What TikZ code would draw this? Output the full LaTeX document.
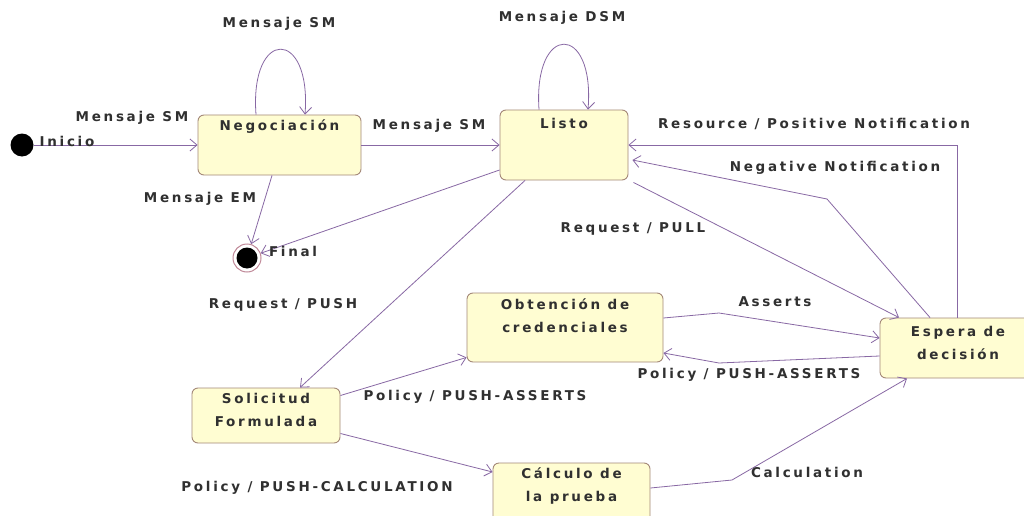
\documentclass[tikz,border=0pt]{standalone}
\usepackage{fontspec}
\usetikzlibrary{arrows.meta,calc}
\newfontfamily\lblfont{DejaVu Sans}[LetterSpace=20]
\definecolor{statefill}{HTML}{FFFDD2}
\definecolor{stateline}{HTML}{A48878}
\definecolor{trans}{HTML}{8868A4}
\definecolor{ink}{HTML}{303030}
\definecolor{finalring}{HTML}{C08898}

\begin{document}
\begin{tikzpicture}[x=1pt,y=-1pt,
  txt/.style={font=\lblfont\bfseries\fontsize{13.5}{23}\selectfont, text=ink, inner sep=0pt, align=center},
  state/.style={draw=stateline, fill=statefill, rounded corners=6pt, line width=0.9pt, inner sep=0pt},
  tr/.style={draw=trans, line width=0.8pt, -{Straight Barb[length=7pt,width=12pt]}},
]
\useasboundingbox (0,0) rectangle (1024,516);
\clip (0,0) rectangle (1024,516);
\fill[white] (0,0) rectangle (1024,516);

% pseudo-states
\node[circle, fill=black, minimum size=23pt, inner sep=0pt] (init) at (22,145) {};
\node[circle, draw=finalring, line width=1pt, fill=white, minimum size=28pt, inner sep=0pt] (final) at (247,258) {};
\fill[black] (final.center) circle (10.5pt);

% states
\node[state, minimum width=163pt, minimum height=60pt] (neg) at (279.5,145) {};
\node[txt] (negT) at ($(neg.north)+(0,12)$) {Negociación};

\node[state, minimum width=128pt, minimum height=70pt] (listo) at (564,145) {};
\node[txt] (listoT) at ($(listo.north)+(0,14)$) {Listo};

\node[state, minimum width=196pt, minimum height=69pt] (obt) at (565,327.5) {};
\node[txt] (obtT) at ($(obt.north)+(0,23.5)$) {Obtención de\\credenciales};

\node[state, minimum width=156pt, minimum height=60pt] (esp) at (958,348) {};
\node[txt] (espT) at ($(esp.north)+(0,25.5)$) {Espera de\\decisión};

\node[state, minimum width=148pt, minimum height=55pt] (sol) at (266,415.5) {};
\node[txt] (solT) at ($(sol.north)+(0,22.5)$) {Solicitud\\Formulada};

\node[state, minimum width=157pt, minimum height=60pt] (calc) at (571.5,493) {};
\node[txt] (calcT) at ($(calc.north)+(0,23.5)$) {Cálculo de\\la prueba};

% bend points
\coordinate (negbend) at (827,199);
\coordinate (assertsbend) at (719,313);
\coordinate (pushbend) at (719,363);
\coordinate (calcbend) at (732,480);

% transitions
\draw[tr] (init) -- (neg.west);
\draw[tr] ($(neg.north)+(-23.5,0)$) .. controls ($(neg.north)+(-30,-87)$) and ($(neg.north)+(32,-87)$) .. ($(neg.north)+(25.5,0)$);
\draw[tr] (neg.east) -- (listo.west);
\draw[tr] ($(neg.south)+(-7.5,0)$) -- (final);
\draw[tr] ($(listo.west)+(0,25)$) -- (final);
\draw[tr] ($(listo.north)+(-25,0)$) .. controls ($(listo.north)+(-31,-87)$) and ($(listo.north)+(31,-87)$) .. ($(listo.north)+(24,0)$);
\draw[tr] ($(esp.north)+(-1,0)$) |- (listo.east);
\draw[tr] ($(esp.north)+(-28,0)$) -- (negbend) -- ($(listo.east)+(4,15)$);
\draw[tr] ($(listo.south east)+(5,2)$) -- ($(esp.north)+(-59,0)$);
\draw[tr] ($(listo.south)+(-39,0)$) -- ($(sol.north)+(34,0)$);
\draw[tr] ($(sol.east)+(0,-20)$) -- ($(obt.south west)+(0,-5)$);
\draw[tr] ($(obt.east)+(0,-9.5)$) -- (assertsbend) -- ($(esp.west)+(0,-10)$);
\draw[tr] ($(esp.west)+(0,8)$) -- (pushbend) -- ($(obt.east)+(0,25.5)$);
\draw[tr] ($(sol.east)+(0,18)$) -- ($(calc.west)+(0,-21)$);
\draw[tr] ($(calc.east)+(0,-5)$) -- (calcbend) -- ($(esp.south)+(-51,0)$);

% transition labels
\node[txt] (lInicio) at (67,141) {Inicio};
\node[txt] (lFinal) at (293,251) {Final};
\node[txt] (lInit) at (132,118) {Mensaje SM};
\node[txt] (lNegLoop) at (279,24) {Mensaje SM};
\node[txt] (lNegListo) at (429,126) {Mensaje SM};
\node[txt] (lNegFinal) at (200,199) {Mensaje EM};
\node[txt] (lListoLoop) at (562,18) {Mensaje DSM};
\node[txt] (lResource) at (814,124) {Resource / Positive Notification};
\node[txt] (lNegative) at (835,168) {Negative Notification};
\node[txt] (lPull) at (633,229) {Request / PULL};
\node[txt] (lPush) at (283,305) {Request / PUSH};
\node[txt] (lSolObt) at (475,397) {Policy / PUSH-ASSERTS};
\node[txt] (lAsserts) at (775,302) {Asserts};
\node[txt] (lEspObt) at (749,375) {Policy / PUSH-ASSERTS};
\node[txt] (lSolCalc) at (317,488) {Policy / PUSH-CALCULATION};
\node[txt] (lCalc) at (807,472) {Calculation};
\end{tikzpicture}
\end{document}
